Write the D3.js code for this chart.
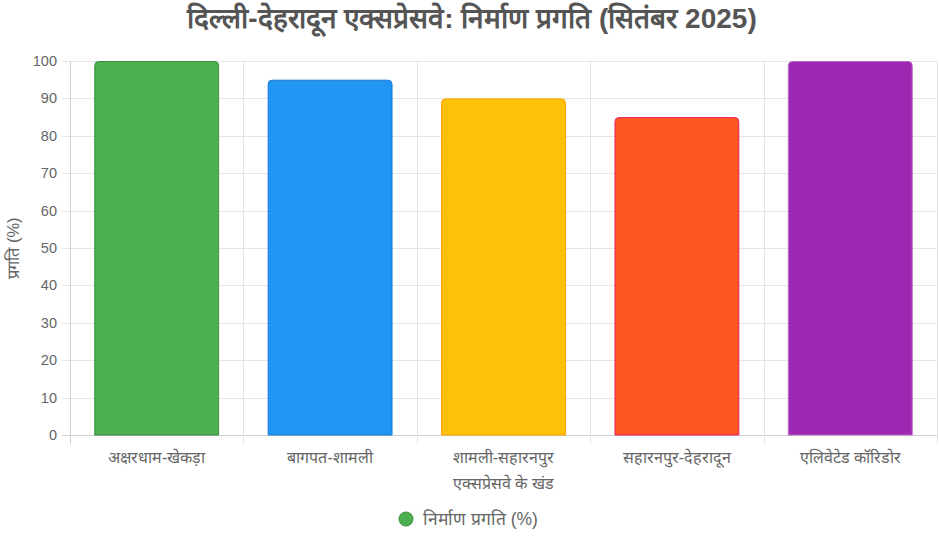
<!DOCTYPE html>
<html><head><meta charset="utf-8">
<script src="https://cdn.jsdelivr.net/npm/d3@7"></script>
<style>
html,body{margin:0;padding:0;background:#fff;}
svg{display:block;font-family:"Helvetica Neue",Helvetica,Arial,sans-serif;}
</style></head><body>
<svg id="chart" width="939" height="542"></svg>
<script>
const title = "दिल्ली-देहरादून एक्सप्रेसवे: निर्माण प्रगति (सितंबर 2025)";
const categories = [["अक्षरधाम-खेकड़ा"],["बागपत-शामली"],["शामली-सहारनपुर","एक्सप्रेसवे के खंड"],["सहारनपुर-देहरादून"],["एलिवेटेड कॉरिडोर"]];
const values = [100, 95, 90, 85, 100];
const fillColors = ["#4CAF50","#2196F3","#FFC107","#FF5722","#9C27B0"];
const borderColors = ["#388E3C","#1976D2","#FFA000","#E91E63","#BA68C8"];
const yTicks = [0,10,20,30,40,50,60,70,80,90,100];
const yLabel = "प्रगति (%)";
const legendLabel = "निर्माण प्रगति (%)";

const svg = d3.select("#chart");
const pLeft = 70, pRight = 937, pTop = 61, pBottom = 435;
const x = d3.scaleBand().domain(d3.range(categories.length)).range([pLeft, pRight]).paddingInner(0).paddingOuter(0);
const y = d3.scaleLinear().domain([0,100]).range([pBottom, pTop]);
const gridColor = "#e5e5e5";

// horizontal grid
svg.append("g").selectAll("line").data(yTicks).join("line")
  .attr("x1", pLeft-8).attr("x2", pRight)
  .attr("y1", d=>Math.round(y(d))+0.5).attr("y2", d=>Math.round(y(d))+0.5)
  .attr("stroke", d=> d===0 ? "#cfcfcf" : gridColor).attr("stroke-width",1);
// vertical grid
const vx = d3.range(categories.length+1).map(i => i<categories.length ? x(i) : pRight);
svg.append("g").selectAll("line").data(vx).join("line")
  .attr("x1", d=>Math.round(d)+0.5).attr("x2", d=>Math.round(d)+0.5)
  .attr("y1", pTop).attr("y2", pBottom+9)
  .attr("stroke", (d,i)=> i===0 ? "#cfcfcf" : gridColor);

// y tick labels
svg.append("g").selectAll("text").data(yTicks).join("text")
  .attr("x", pLeft-13).attr("y", d=>y(d)).attr("dy","0.35em")
  .attr("text-anchor","end").attr("font-size",14.5).attr("fill","#666")
  .text(d=>d);

// bars
const bw = x.bandwidth()*0.72;
const r = 4;
function barPath(x0, y0, w, h){
  const rr = Math.min(r, h);
  return `M${x0},${y0+h}V${y0+rr}Q${x0},${y0} ${x0+rr},${y0}H${x0+w-rr}Q${x0+w},${y0} ${x0+w},${y0+rr}V${y0+h}Z`;
}
svg.append("g").selectAll("path").data(values).join("path")
  .attr("d", (d,i)=>{
    const cx = x(i)+x.bandwidth()/2;
    return barPath(cx-bw/2+0.5, y(d)+0.5, bw-1, pBottom - y(d)-0.5);
  })
  .attr("fill",(d,i)=>fillColors[i])
  .attr("stroke",(d,i)=>borderColors[i]).attr("stroke-width",1);

// x labels
const xl = svg.append("g");
categories.forEach((lines,i)=>{
  const t = xl.append("text").attr("x", x(i)+x.bandwidth()/2).attr("y", 463)
    .attr("text-anchor","middle").attr("font-size",16).attr("fill","#666");
  lines.forEach((ln,j)=> t.append("tspan").attr("x", x(i)+x.bandwidth()/2).attr("dy", j===0?0:26).text(ln));
});

// y axis title
svg.append("text").attr("transform",`translate(19,${(pTop+pBottom)/2}) rotate(-90)`)
  .attr("text-anchor","middle").attr("font-size",16.5).attr("fill","#666").text(yLabel);

// title
svg.append("text").attr("x", 472).attr("y", 28).attr("text-anchor","middle")
  .attr("font-size",28).attr("font-weight","bold").attr("fill","#555").text(title);

// legend
const lg = svg.append("g");
lg.append("circle").attr("cx",406).attr("cy",519).attr("r",7).attr("fill",fillColors[0]).attr("stroke",borderColors[0]);
lg.append("text").attr("x",423).attr("y",519).attr("dy","0.35em").attr("font-size",17.5).attr("fill","#666").text(legendLabel);
</script>
</body></html>
